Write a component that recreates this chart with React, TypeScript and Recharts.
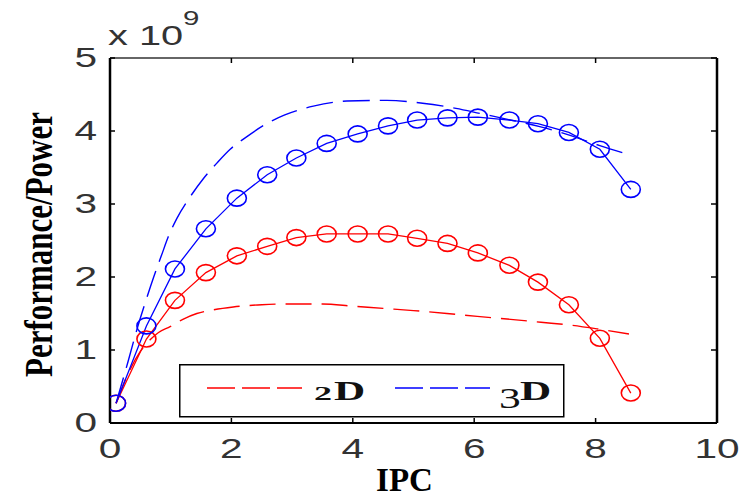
import React from 'react';
import { ComposedChart, Line, XAxis, YAxis, Legend } from 'recharts';

// values are read in units of 10^9
const SCALE = 1e9;
const xTicks = [0, 2, 4, 6, 8, 10];
const yTicks = [0, 1, 2, 3, 4, 5];

// measured (circle-marked) curves
const ipcSamples = [0.1, 0.6, 1.07, 1.58, 2.09, 2.59, 3.07, 3.57, 4.08, 4.58, 5.06, 5.56, 6.06, 6.58, 7.05, 7.56, 8.07, 8.58];
const perf2D = [0.27, 1.15, 1.68, 2.06, 2.29, 2.42, 2.54, 2.59, 2.59, 2.59, 2.53, 2.46, 2.33, 2.16, 1.93, 1.62, 1.16, 0.41];
const perf3D = [0.27, 1.33, 2.11, 2.66, 3.08, 3.4, 3.63, 3.83, 3.96, 4.07, 4.15, 4.18, 4.19, 4.15, 4.1, 3.98, 3.75, 3.2];

// dashed (legend) curves
const model2DX = [0.1, 0.3, 0.5, 0.66, 0.8, 0.99, 1.2, 1.43, 1.7, 2.03, 2.5, 2.9, 3.5, 4.0, 4.5, 5.0, 5.55, 6.05, 6.6, 7.1, 7.6, 8.1, 8.55];
const model2DY = [0.27, 0.68, 0.98, 1.14, 1.24, 1.32, 1.42, 1.5, 1.55, 1.59, 1.62, 1.63, 1.63, 1.6, 1.57, 1.54, 1.5, 1.46, 1.42, 1.38, 1.34, 1.28, 1.22];
const model3DX = [0.1, 0.3, 0.45, 0.6, 0.72, 0.85, 0.96, 1.1, 1.29, 1.54, 1.76, 1.98, 2.25, 2.58, 2.88, 3.35, 3.9, 4.56, 5.15, 5.7, 6.1, 6.55, 7.08, 7.58, 8.07, 8.54];
const model3DY = [0.27, 0.85, 1.3, 1.7, 2.0, 2.3, 2.55, 2.8, 3.06, 3.35, 3.56, 3.75, 3.92, 4.1, 4.22, 4.34, 4.41, 4.42, 4.38, 4.31, 4.24, 4.16, 4.06, 3.94, 3.8, 3.68];

const legendLabels = [
  { num: '2', letter: 'D', color: '#ff0000' },
  { num: '3', letter: 'D', color: '#0000ff' },
];

const toRows = (xs: number[], ys: number[]) => xs.map((x, i) => ({ ipc: x, value: ys[i] * SCALE }));

const rows2D = toRows(ipcSamples, perf2D);
const rows3D = toRows(ipcSamples, perf3D);
const rowsModel2D = toRows(model2DX, model2DY);
const rowsModel3D = toRows(model3DX, model3DY);

const TICK_FONT = '"Liberation Sans", Arial, sans-serif';
const TITLE_FONT = '"Liberation Serif", "Times New Roman", serif';

const BottomTick = (props: any) => {
  const { x, y, payload } = props;
  return (
    <g>
      <line x1={x} y1={y} x2={x} y2={y - 5} stroke="#000" strokeWidth={1.5} />
      <text transform={`translate(${x},${y + 35}) scale(1.45,1)`} textAnchor="middle" fontFamily={TICK_FONT} fontSize={28} fill="#333">
        {payload.value}
      </text>
    </g>
  );
};

const TopTick = (props: any) => {
  const { x, y } = props;
  return <line x1={x} y1={y} x2={x} y2={y + 5} stroke="#000" strokeWidth={1.5} />;
};

const LeftTick = (props: any) => {
  const { x, y, payload } = props;
  return (
    <g>
      <line x1={x} y1={y} x2={x + 5} y2={y} stroke="#000" strokeWidth={1.5} />
      <text transform={`translate(${x - 13},${y + 9}) scale(1.45,1)`} textAnchor="end" fontFamily={TICK_FONT} fontSize={28} fill="#333">
        {payload.value / SCALE}
      </text>
    </g>
  );
};

const RightTick = (props: any) => {
  const { x, y } = props;
  return <line x1={x} y1={y} x2={x - 6} y2={y} stroke="#000" strokeWidth={1.5} />;
};

const YTitle = (props: any) => {
  const vb = props.viewBox || { x: 0, y: 58, width: 110, height: 365 };
  const plotLeft = vb.x + vb.width;
  const top = vb.y;
  return (
    <g>
      <text
        transform={`translate(${vb.x + 52},${top + vb.height / 2 + 4}) rotate(-90)`}
        textAnchor="middle"
        fontFamily={TITLE_FONT}
        fontWeight="bold"
        fontSize={40}
        textLength={265}
        lengthAdjust="spacingAndGlyphs"
        fill="#000"
      >
        Performance/Power
      </text>
      <text transform={`translate(${plotLeft - 2},${top - 13}) scale(1.42,1)`} fontFamily={TICK_FONT} fontSize={28} fill="#333">
        x 10
      </text>
      <text transform={`translate(${plotLeft + 73},${top - 33}) scale(1.4,1)`} fontFamily={TICK_FONT} fontSize={21} fill="#333">
        9
      </text>
    </g>
  );
};

const XTitle = (props: any) => {
  const vb = props.viewBox || { x: 110, y: 423, width: 607, height: 74 };
  return (
    <text x={vb.x + vb.width / 2 - 9} y={vb.y + 68} textAnchor="middle" fontFamily={TITLE_FONT} fontWeight="bold" fontSize={33} fill="#000">
      IPC
    </text>
  );
};

const makeRing = (color: string) => (props: any) => {
  const { cx, cy, index } = props;
  if (cx == null || cy == null) return <g key={`r-${index}`} />;
  return <ellipse key={`r-${index}`} cx={cx} cy={cy} rx={9.5} ry={8} fill="none" stroke={color} strokeWidth={1.6} />;
};

const LegendBox = () => (
  <svg width={386} height={54} style={{ display: 'block' }}>
    <rect x={0.75} y={0.75} width={384} height={52} fill="#fff" stroke="#000" strokeWidth={1.5} />
    <line x1={28} y1={24} x2={123} y2={24} stroke={legendLabels[0].color} strokeWidth={1.4} strokeDasharray="28 7" />
    <text transform="translate(135,36) scale(1.9,1)" fontFamily={TITLE_FONT} fontWeight="bold" fontSize={19} fill="#111">
      {legendLabels[0].num}
    </text>
    <text transform="translate(155,36) scale(1.6,1)" fontFamily={TITLE_FONT} fontWeight="bold" fontSize={27} fill="#111">
      {legendLabels[0].letter}
    </text>
    <line x1={216} y1={24} x2={311} y2={24} stroke={legendLabels[1].color} strokeWidth={1.4} strokeDasharray="28 7" />
    <text transform="translate(320,44) scale(1.5,1)" fontFamily={TITLE_FONT} fontSize={29} fill="#111">
      {legendLabels[1].num}
    </text>
    <text transform="translate(341,36) scale(1.6,1)" fontFamily={TITLE_FONT} fontWeight="bold" fontSize={27} fill="#111">
      {legendLabels[1].letter}
    </text>
  </svg>
);

export default function App() {
  return (
    <div style={{ position: 'absolute', left: 0, top: 0, width: 753, height: 497, background: '#fff' }}>
      <ComposedChart width={753} height={497} margin={{ top: 48, right: 0, bottom: 0, left: 0 }}>
        <XAxis
          dataKey="ipc"
          type="number"
          domain={[0, 10]}
          ticks={xTicks}
          allowDataOverflow
          height={74}
          tickSize={0}
          tickMargin={0}
          tick={<BottomTick />}
          axisLine={{ stroke: '#000', strokeWidth: 2 }}
          label={<XTitle />}
        />
        <XAxis
          xAxisId="top"
          orientation="top"
          dataKey="ipc"
          type="number"
          domain={[0, 10]}
          ticks={xTicks}
          allowDataOverflow
          height={10}
          tickSize={0}
          tickMargin={0}
          tick={<TopTick />}
          axisLine={{ stroke: '#333', strokeWidth: 1.5 }}
        />
        <YAxis
          type="number"
          domain={[0, 5 * SCALE]}
          ticks={yTicks.map((t) => t * SCALE)}
          allowDataOverflow
          width={110}
          tickSize={0}
          tickMargin={0}
          tick={<LeftTick />}
          axisLine={{ stroke: '#000', strokeWidth: 2.5 }}
          label={<YTitle />}
        />
        <YAxis
          yAxisId="right"
          orientation="right"
          type="number"
          domain={[0, 5 * SCALE]}
          ticks={yTicks.map((t) => t * SCALE)}
          allowDataOverflow
          width={36}
          tickSize={0}
          tickMargin={0}
          tick={<RightTick />}
          axisLine={{ stroke: '#000', strokeWidth: 2.5 }}
        />
        <Line
          data={rowsModel2D}
          dataKey="value"
          type="monotone"
          stroke="#ff0000"
          strokeWidth={1.4}
          strokeDasharray="26 10"
          dot={false}
          isAnimationActive={false}
          name="2D"
        />
        <Line
          data={rowsModel3D}
          dataKey="value"
          type="monotone"
          stroke="#0000ff"
          strokeWidth={1.4}
          strokeDasharray="27 10"
          dot={false}
          isAnimationActive={false}
          name="3D"
        />
        <Line
          data={rows2D}
          dataKey="value"
          type="linear"
          stroke="#ff0000"
          strokeWidth={1.3}
          dot={makeRing('#ff0000')}
          isAnimationActive={false}
          legendType="none"
        />
        <Line
          data={rows3D}
          dataKey="value"
          type="linear"
          stroke="#0000ff"
          strokeWidth={1.3}
          dot={makeRing('#0000ff')}
          isAnimationActive={false}
          legendType="none"
        />
        <Legend
          layout="horizontal"
          verticalAlign="middle"
          align="center"
          wrapperStyle={{ left: 179, top: 364, width: 386, height: 54 }}
          content={() => <LegendBox />}
        />
      </ComposedChart>
    </div>
  );
}
